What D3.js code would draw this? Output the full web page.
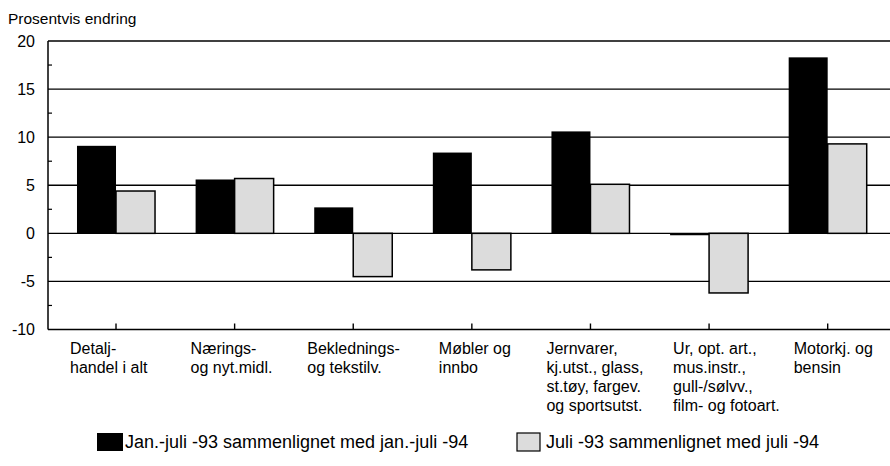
<!DOCTYPE html>
<html>
<head>
<meta charset="utf-8">
<script src="https://cdn.jsdelivr.net/npm/d3@7/dist/d3.min.js"></script>
<style>
  body { margin: 0; background: #fff; }
  svg { display: block; font-family: "Liberation Sans", Arial, sans-serif; }
</style>
</head>
<body>
<script>
// kategorier (linjeskift i etikettene)
var categories = [
  ['Detalj-', 'handel i alt'],
  ['Nærings-', 'og nyt.midl.'],
  ['Beklednings-', 'og tekstilv.'],
  ['Møbler og', 'innbo'],
  ['Jernvarer,', 'kj.utst., glass,', 'st.tøy, fargev.', 'og sportsutst.'],
  ['Ur, opt. art.,', 'mus.instr.,', 'gull-/sølvv.,', 'film- og fotoart.'],
  ['Motorkj. og', 'bensin']
];
var seriesNames = ['Jan.-juli -93 sammenlignet med jan.-juli -94',
                   'Juli -93 sammenlignet med juli -94'];
var janJuli = [9.1, 5.6, 2.7, 8.4, 10.6, -0.2, 18.3];
var juli    = [4.4, 5.7, -4.5, -3.8, 5.1, -6.2, 9.3];
var yTicks  = [-10, -5, 0, 5, 10, 15, 20];

var WIDTH = 890, HEIGHT = 466;
var svg = d3.select('body').append('svg')
  .attr('width', WIDTH).attr('height', HEIGHT);

var keys = categories.map(function(c, i){ return 'c' + i; });
var x = d3.scaleBand().domain(keys).range([56.7, 887]).padding(0);
var xs = d3.scaleBand().domain([0, 1]).range([0, x.bandwidth()])
  .paddingInner(0).paddingOuter(0.52);
var y = d3.scaleLinear().domain([-10, 20]).range([329.5, 41]);

var left = 48, right = 890;

// rutenett
svg.selectAll('line.grid').data(yTicks).enter().append('line')
  .attr('x1', left).attr('x2', right)
  .attr('y1', function(d){ return y(d); })
  .attr('y2', function(d){ return y(d); })
  .attr('stroke', '#000').attr('stroke-width', 1.4);

// små merker på y-aksen
var minor = d3.range(-7.5, 20, 5);
svg.selectAll('line.minor').data(minor).enter().append('line')
  .attr('x1', left).attr('x2', left + 4)
  .attr('y1', function(d){ return y(d); })
  .attr('y2', function(d){ return y(d); })
  .attr('stroke', '#000').attr('stroke-width', 1.2);

// søyler
var rows = categories.map(function(c, i){
  return { key: keys[i], values: [janJuli[i], juli[i]] };
});
var g = svg.selectAll('g.cat').data(rows).enter().append('g')
  .attr('transform', function(d){ return 'translate(' + x(d.key) + ',0)'; });

g.selectAll('rect').data(function(d){ return d.values; }).enter().append('rect')
  .attr('x', function(d, i){ return xs(i); })
  .attr('width', xs.bandwidth())
  .attr('y', function(d){ return y(Math.max(0, d)); })
  .attr('height', function(d){ return Math.abs(y(d) - y(0)); })
  .attr('fill', function(d, i){ return i === 0 ? '#000' : '#dcdcdc'; })
  .attr('stroke', '#000')
  .attr('stroke-width', function(d, i){ return i === 0 ? 0 : 1.5; });

// y-akse
svg.append('line')
  .attr('x1', left).attr('x2', left)
  .attr('y1', y(20)).attr('y2', y(-10))
  .attr('stroke', '#000').attr('stroke-width', 1.5);

svg.selectAll('text.ytick').data(yTicks).enter().append('text')
  .attr('x', 35)
  .attr('y', function(d){ return y(d) + 5.5; })
  .attr('text-anchor', 'end')
  .attr('font-size', 16)
  .text(function(d){ return d; });

// x-akse merker
svg.selectAll('line.xtick').data(keys).enter().append('line')
  .attr('x1', function(d){ return x(d) + x.bandwidth() / 2; })
  .attr('x2', function(d){ return x(d) + x.bandwidth() / 2; })
  .attr('y1', y(-10)).attr('y2', y(-10) - 6)
  .attr('stroke', '#000').attr('stroke-width', 1.4);

var labelShift = [-46, -44, -46, -33, -44, -36, -34];
svg.selectAll('text.xlab').data(categories).enter().append('text')
  .attr('font-size', 16)
  .attr('transform', function(d, i){
    return 'translate(' + (x(keys[i]) + x.bandwidth() / 2 + labelShift[i]) + ',354)';
  })
  .each(function(d){
    d3.select(this).selectAll('tspan').data(d).enter().append('tspan')
      .attr('x', 0)
      .attr('dy', function(t, j){ return j === 0 ? 0 : 19; })
      .text(function(t){ return t; });
  });

// akse-tittel
svg.append('text')
  .attr('x', 8).attr('y', 24)
  .attr('font-size', 15.5)
  .text('Prosentvis endring');

// forklaring
var legendX = [97, 517];
var legend = svg.selectAll('g.legend').data(seriesNames).enter().append('g')
  .attr('transform', function(d, i){ return 'translate(' + legendX[i] + ',433)'; });
legend.append('rect')
  .attr('width', function(d, i){ return i === 0 ? 26 : 23; })
  .attr('height', 18)
  .attr('fill', function(d, i){ return i === 0 ? '#000' : '#dcdcdc'; })
  .attr('stroke', '#000')
  .attr('stroke-width', function(d, i){ return i === 0 ? 0 : 1.2; });
legend.append('text')
  .attr('x', function(d, i){ return i === 0 ? 28 : 29; })
  .attr('y', 15)
  .attr('font-size', 18)
  .text(function(d){ return d; });
</script>
</body>
</html>
